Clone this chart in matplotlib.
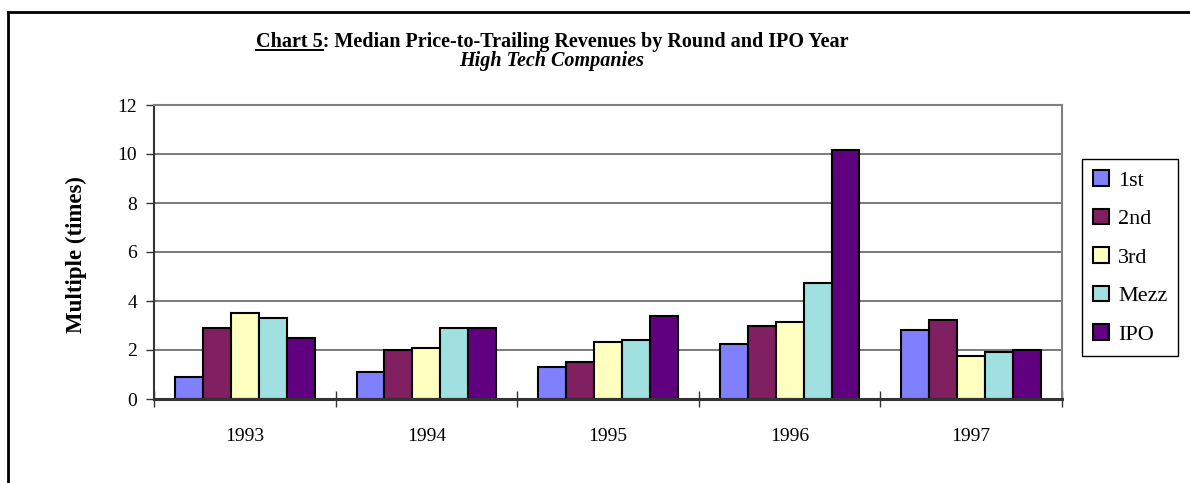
import numpy as np
import matplotlib
matplotlib.use("Agg")
import matplotlib.pyplot as plt
from matplotlib.lines import Line2D

years = ["1993", "1994", "1995", "1996", "1997"]
rounds = ["1st", "2nd", "3rd", "Mezz", "IPO"]
first = [0.89, 1.11, 1.29, 2.24, 2.82]
second = [2.89, 2.01, 1.52, 2.97, 3.21]
third = [3.52, 2.09, 2.33, 3.13, 1.77]
mezz = [3.29, 2.89, 2.41, 4.73, 1.92]
ipo = [2.49, 2.89, 3.38, 10.16, 2.01]
colors = ["#8080FF", "#802060", "#FFFFC0", "#A0E0E0", "#600080"]

plt.rcParams['font.family'] = ['Liberation Serif', 'DejaVu Serif']

W, H = 1190, 483
fig = plt.figure(figsize=(W / 100, H / 100), dpi=100)
ax = fig.add_axes([154 / W, 1 - 399 / H, (1062 - 154) / W, (399 - 105) / H])

series = [first, second, third, mezz, ipo]
x = np.arange(len(years))
bw = 1 / 6.5
for i, (vals, name) in enumerate(zip(series, rounds)):
    ax.bar(x + (i - 2) * bw, vals, width=bw, color=colors[i], edgecolor="black",
           linewidth=1.5, label=name, zorder=3)

ax.set_xlim(-0.5, 4.5)
ax.set_ylim(0, 12)
ax.set_yticks(range(0, 13, 2))
ax.yaxis.grid(True, color="#707070", linewidth=1.3, zorder=0)
ax.tick_params(axis="y", direction="out", length=6, width=1, color="#333333",
               labelsize=14, pad=6)

# category boundaries as major ticks, year labels on minor ticks
ax.set_xticks(np.arange(-0.5, 5, 1))
ax.set_xticklabels([])
ax.set_xticks(x, minor=True)
ax.set_xticklabels(years, minor=True)
ax.tick_params(axis="x", which="major", direction="inout", length=12, width=1, color="#333333")
ax.tick_params(axis="x", which="minor", length=0, labelsize=14, pad=21)

for s in ["top", "right"]:
    ax.spines[s].set_color("#808080")
    ax.spines[s].set_linewidth(1.5)
ax.spines["left"].set_color("#333333")
ax.spines["left"].set_linewidth(1.5)
ax.spines["bottom"].set_color("#333333")
ax.spines["bottom"].set_linewidth(2.2)
ax.spines["bottom"].set_zorder(4)

fig.text(76 / W, 1 - 255 / H, "Multiple (times)", rotation=90, ha="center", va="center",
         fontsize=16.5, fontweight="bold")

leg = ax.legend(loc="upper left", bbox_to_anchor=(1082 / W, 1 - 159 / H),
                bbox_transform=fig.transFigure, borderaxespad=0, fancybox=False,
                edgecolor="black", fontsize=16, handlelength=0.72, handleheight=0.72,
                handletextpad=0.4, labelspacing=0.8, borderpad=0.5, framealpha=1)
leg.get_frame().set_linewidth(1.0)

# title with underlined "Chart 5"
tx, ty = 552 / W, 1 - 47 / H
title = fig.text(tx, ty, "Chart 5: Median Price-to-Trailing Revenues by Round and IPO Year",
                 ha="center", va="baseline", fontsize=14.5, fontweight="bold")
fig.text(tx, 1 - 66 / H, "High Tech Companies", ha="center", va="baseline",
         fontsize=14.5, fontweight="bold", style="italic")

r = fig.canvas.get_renderer()
tb = title.get_window_extent(r)
probe = fig.text(0, 0, "Chart 5", fontsize=14.5, fontweight="bold")
pw = probe.get_window_extent(r).width
probe.remove()
uy = ty - 3 / H
fig.add_artist(Line2D([tb.x0 / W, (tb.x0 + pw) / W], [uy, uy], transform=fig.transFigure,
                      color="black", linewidth=1.4))

# outer frame (left and top edges)
fig.add_artist(Line2D([8 / W, 8 / W], [0, 1 - 12 / H], transform=fig.transFigure,
                      color="black", linewidth=2))
fig.add_artist(Line2D([8 / W, 1], [1 - 12 / H, 1 - 12 / H], transform=fig.transFigure,
                      color="black", linewidth=2))

fig.savefig("out.png", dpi=100)
